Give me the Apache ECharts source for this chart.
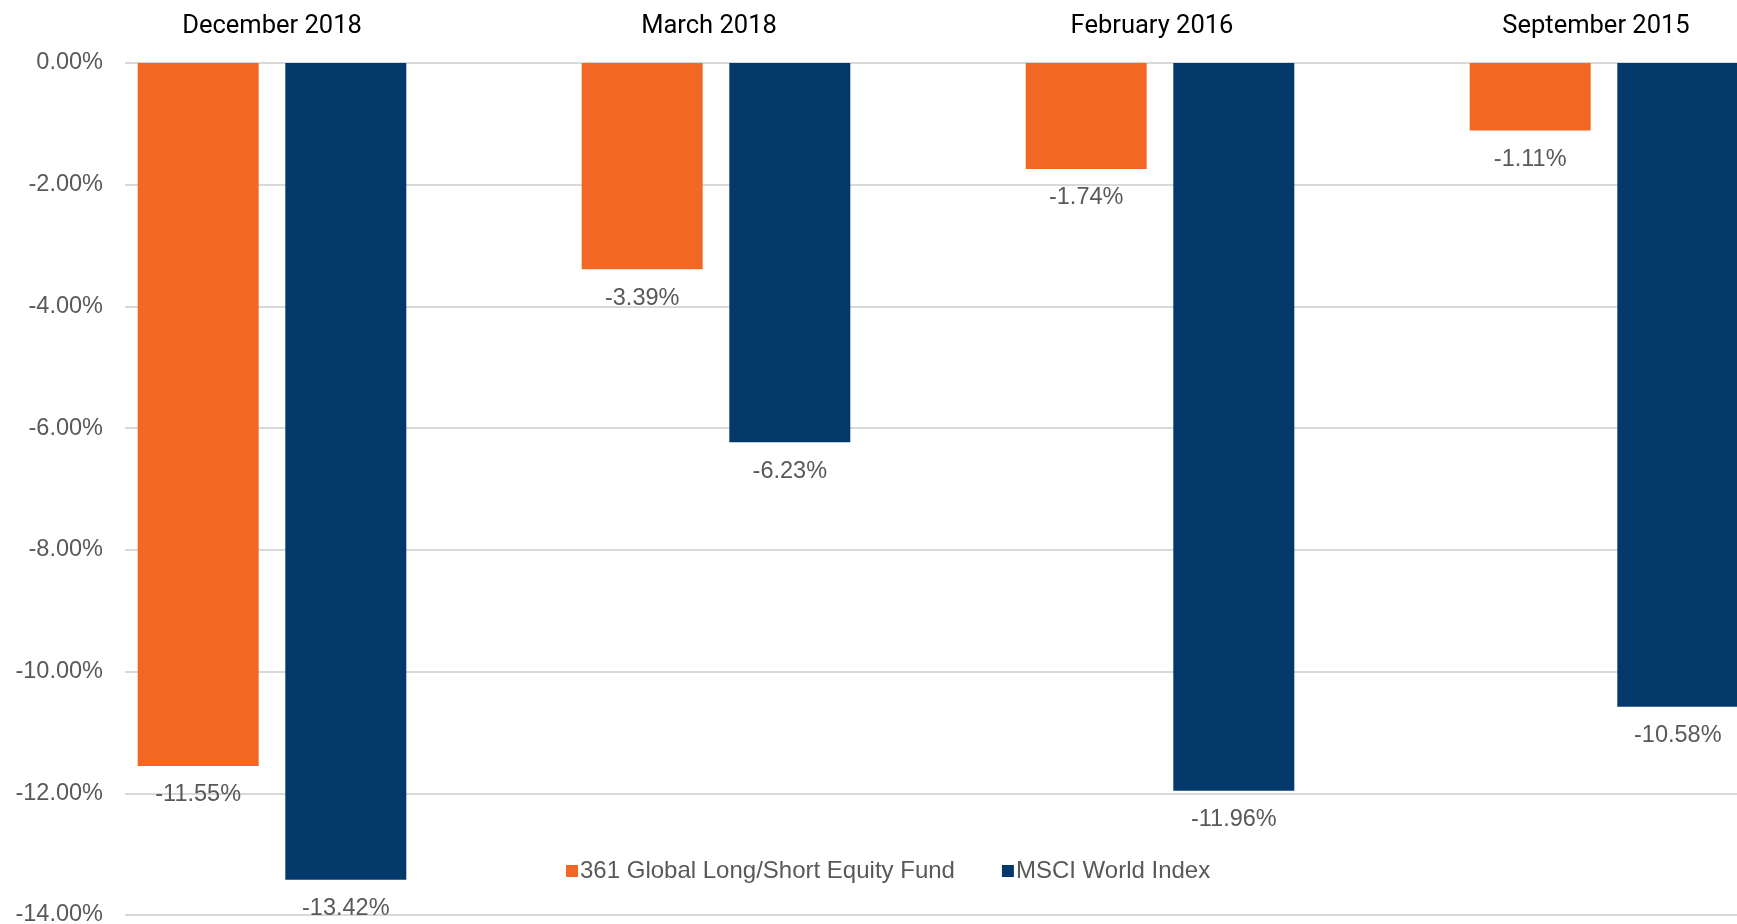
<!DOCTYPE html>
<html>
<head>
<meta charset="utf-8">
<script src="https://cdn.jsdelivr.net/npm/echarts@6/dist/echarts.min.js"></script>
<style>
html,body{margin:0;padding:0;background:#fff;}
#chart{width:1737px;height:924px;}
</style>
</head>
<body>
<div id="chart"></div>
<script>
const categories = ['December 2018', 'March 2018', 'February 2016', 'September 2015'];
const fundName = '361 Global Long/Short Equity Fund';
const indexName = 'MSCI World Index';
const fundValues = [-11.55, -3.39, -1.74, -1.11];
const indexValues = [-13.42, -6.23, -11.96, -10.58];
const yMin = -14, yMax = 0, yStep = 2;

const chart = echarts.init(document.getElementById('chart'), null, {renderer: 'canvas'});
const pct = v => Number(v).toFixed(2) + '%';
const labelStyle = {
  show: true, position: 'bottom', distance: 17,
  fontFamily: 'Liberation Sans, Arial, sans-serif', fontSize: 23.5, color: '#595959',
  formatter: p => pct(p.value)
};
const catFont = {fontFamily: 'Roboto, sans-serif', fontSize: 25.5, color: '#000000'};
const catShift = [0, 14, 16, 16]; // right padding (px) nudging header labels left
const rich = {};
catShift.forEach((s, i) => { rich['c' + i] = Object.assign({padding: [0, s, 0, 0]}, catFont); });

chart.setOption({
  animation: false,
  backgroundColor: '#ffffff',
  grid: [
    {left: 50, top: 63, width: 1776, height: 852, containLabel: false, outerBoundsMode: 'none'},
    {left: 125, right: 0, top: 63, height: 852, containLabel: false, outerBoundsMode: 'none'}
  ],
  legend: {
    left: 561, top: 854,
    icon: 'rect', itemWidth: 12, itemHeight: 12, itemGap: 47,
    textStyle: {fontFamily: 'Liberation Sans, Arial, sans-serif', fontSize: 24, color: '#595959', padding: [0,0,0,-3]},
    data: [fundName, indexName]
  },
  xAxis: [
    {type: 'category', gridIndex: 0, position: 'top', data: categories,
     axisLine: {show: false}, axisTick: {show: false}, splitLine: {show: false},
     axisLabel: Object.assign({margin: 23.5, rich: rich,
       formatter: (v, i) => '{c' + i + '|' + v + '}'}, catFont)},
    {type: 'value', gridIndex: 1, show: false}
  ],
  yAxis: [
    {type: 'value', gridIndex: 0, min: yMin, max: yMax, interval: yStep, show: false},
    {type: 'value', gridIndex: 1, min: yMin, max: yMax, interval: yStep,
     axisLine: {show: false}, axisTick: {show: false},
     splitLine: {show: true, lineStyle: {color: '#d9d9d9', width: 2}},
     axisLabel: {margin: 22, fontFamily: 'Liberation Sans, Arial, sans-serif', fontSize: 23.5, color: '#595959', formatter: v => pct(v)}}
  ],
  series: [
    {name: fundName, type: 'bar', xAxisIndex: 0, yAxisIndex: 0, data: fundValues,
     barWidth: 121, barGap: '22%', itemStyle: {color: '#F36724'}, label: labelStyle, z: 3},
    {name: indexName, type: 'bar', xAxisIndex: 0, yAxisIndex: 0, data: indexValues,
     barWidth: 121, barGap: '22%', itemStyle: {color: '#03386B'}, label: labelStyle, z: 3}
  ]
});
</script>
</body>
</html>
